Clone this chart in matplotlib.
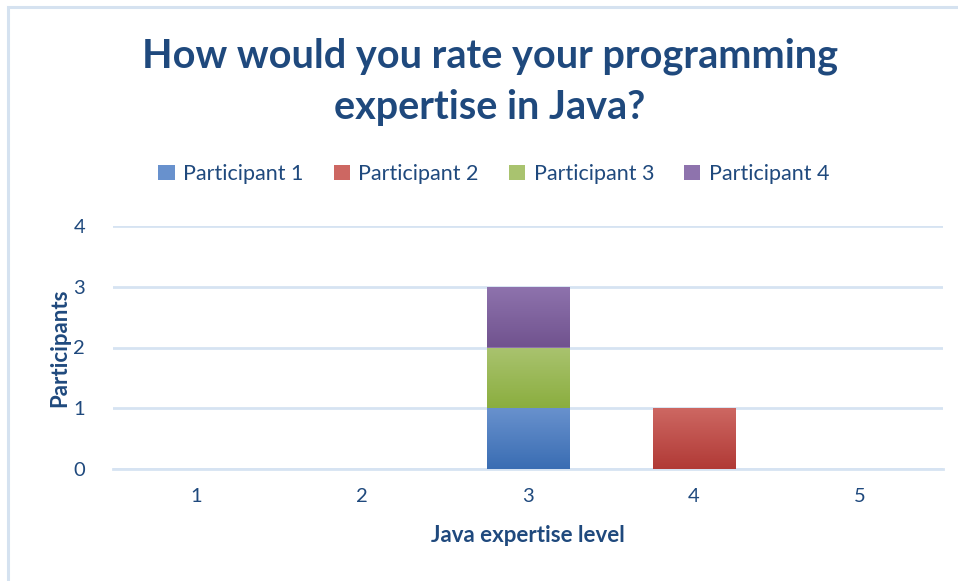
import numpy as np
import matplotlib.pyplot as plt
from matplotlib.patches import Rectangle
from matplotlib.colors import LinearSegmentedColormap

# Java expertise survey: number of participants per self-rated level
levels = ['1', '2', '3', '4', '5']
participant_1 = [0, 0, 1, 0, 0]
participant_2 = [0, 0, 0, 1, 0]
participant_3 = [0, 0, 1, 0, 0]
participant_4 = [0, 0, 1, 0, 0]
series_names = ['Participant 1', 'Participant 2', 'Participant 3', 'Participant 4']
y_ticks = [0, 1, 2, 3, 4]

# top / bottom colours of each gradient fill
fills = [('#6891CD', '#3A6DB3'),
         ('#CD6762', '#B13A36'),
         ('#A9C36F', '#8BAE3F'),
         ('#8E73AD', '#71538F')]

TEXT = '#1F497D'
GRID = '#D6E3F2'
plt.rcParams['font.family'] = ['Lato', 'DejaVu Sans']

fig = plt.figure(figsize=(9.58, 5.81), dpi=100)
fig.patches.append(Rectangle((8 / 958, -0.05), 1.1, (581 - 7) / 581 + 0.05,
                             transform=fig.transFigure, fill=False,
                             edgecolor='#D5E2F0', linewidth=2.2))

ax = fig.add_axes([113 / 958, (581 - 469) / 581, 830 / 958, 243 / 581])
x = np.arange(len(levels))
bottom = np.zeros(len(levels))
for vals, name, (c_top, c_bot) in zip([participant_1, participant_2, participant_3, participant_4],
                                      series_names, fills):
    bars = ax.bar(x, vals, 0.5, bottom=bottom, color=c_top, label=name, zorder=3,
                  linewidth=0)
    cmap = LinearSegmentedColormap.from_list(name, [c_bot, c_top])
    for b in bars:
        if b.get_height() <= 0:
            continue
        x0, y0 = b.get_x(), b.get_y()
        grad = np.linspace(0, 1, 64).reshape(-1, 1)
        im = ax.imshow(grad, cmap=cmap, origin='lower', aspect='auto', zorder=4,
                       extent=(x0, x0 + b.get_width(), y0, y0 + b.get_height()))
        im.set_clip_path(b)
    bottom += np.array(vals)

ax.set_xlim(-0.5, len(levels) - 0.5)
ax.set_ylim(0, 4)
ax.set_yticks(y_ticks)
ax.set_xticks(x, levels)
ax.tick_params(length=0, labelsize=14.5, colors=TEXT)
ax.tick_params(axis='y', pad=20)
ax.tick_params(axis='x', pad=14)
ax.yaxis.grid(True, color=GRID, linewidth=2, zorder=0)
ax.set_axisbelow(True)
for side in ['top', 'right', 'left']:
    ax.spines[side].set_visible(False)
ax.spines['bottom'].set_color(GRID)
ax.spines['bottom'].set_linewidth(2)

ax.set_xlabel('Java expertise level', fontsize=16, fontweight='bold', color=TEXT, labelpad=14)
ax.set_ylabel('Participants', fontsize=16, fontweight='bold', color=TEXT, labelpad=2)

fig.text(490 / 958, 1 - 82 / 581, 'How would you rate your programming\nexpertise in Java?',
         ha='center', va='center', fontsize=28.5, fontweight='bold', color=TEXT,
         linespacing=1.48)

leg = fig.legend(loc='center', bbox_to_anchor=(494 / 958, 1 - 174 / 581), ncol=4,
                 frameon=False, fontsize=15.5, handlelength=0.75, handleheight=0.75,
                 handletextpad=0.4, columnspacing=1.4)
for t in leg.get_texts():
    t.set_color(TEXT)

fig.savefig('out.png', dpi=100)
